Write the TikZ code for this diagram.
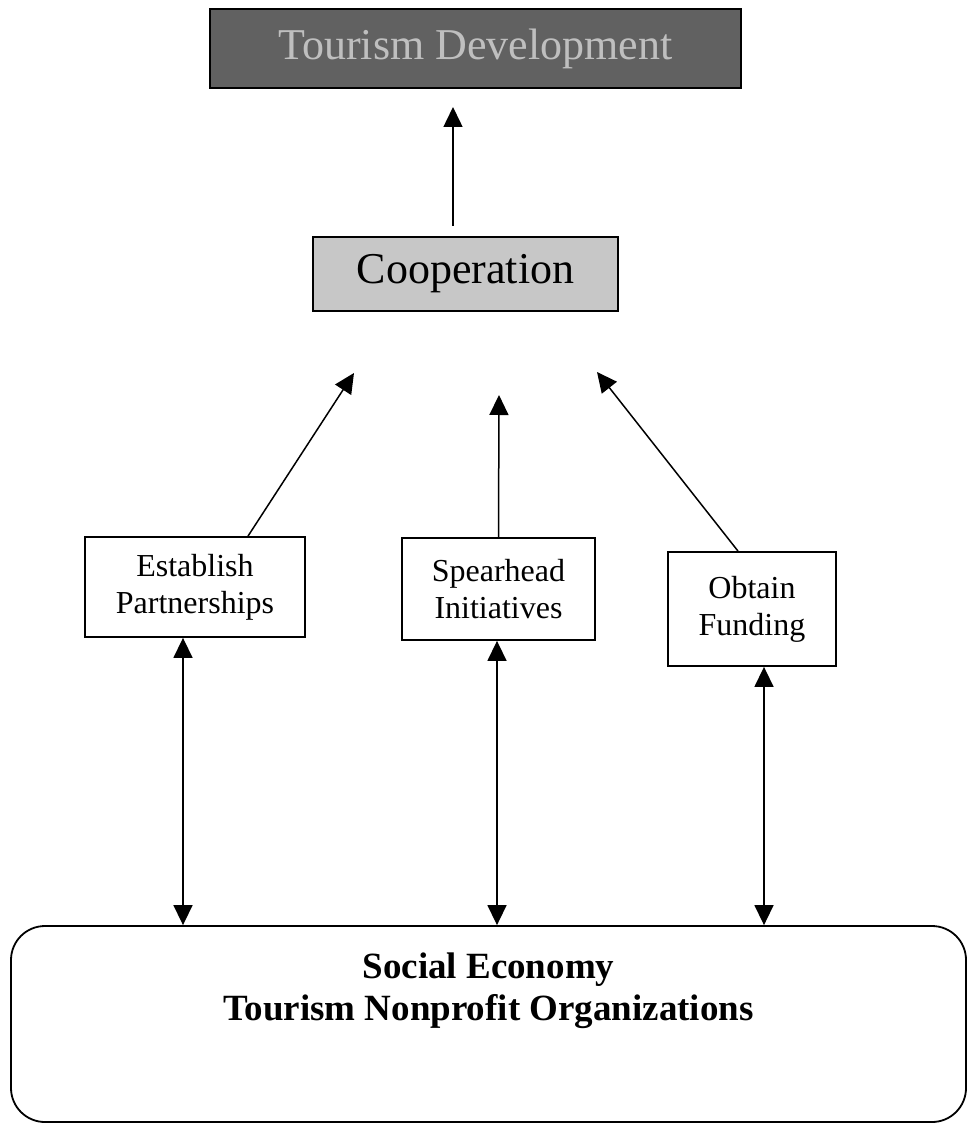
\documentclass[tikz,border=0pt]{standalone}
\usepackage{fontspec}
\setmainfont{Liberation Serif}
\usetikzlibrary{arrows.meta,positioning}
\begin{document}
\begin{tikzpicture}[
x=1pt, y=-1pt,
>={Triangle[length=20pt,width=19pt]},
mybox/.style={
    draw,
    rectangle,
    line width=1.8pt,
    inner sep=0pt,
    align=center},
smallbox/.style={
    mybox,
    font=\fontsize{32}{37}\selectfont},
bigbox/.style={
    mybox,
    font=\fontsize{44}{50}\selectfont},
orgbox/.style={
    draw,
    rectangle,
    rounded corners=34pt,
    line width=1.8pt},
link/.style={line width=1.5pt, ->},
twoway/.style={line width=1.5pt, <->}
]
\useasboundingbox (0,0) rectangle (968,1123);

\node (goal) at (475.5, 48.5) [bigbox, minimum width=531pt, minimum height=79pt, fill=black!62, text=black!25, line width=2.5pt] {Tourism Development};
\node (coop) at (465.5, 274) [bigbox, minimum width=305pt, minimum height=74pt, fill=black!22] {Cooperation};

\node (partner) at (195, 587) [smallbox, minimum width=220pt, minimum height=100pt] {Establish\\Partnerships};
\node (spear) at (498.5, 589) [smallbox, minimum width=193pt, minimum height=102pt] {Spearhead\\Initiatives};
\node (fund) at (752, 609) [smallbox, minimum width=168pt, minimum height=114pt] {Obtain\\Funding};

\node (orgs) at (488.5, 1024) [orgbox, minimum width=955pt, minimum height=196pt] {};
\node (orgtext) [below=28pt of orgs.north, inner sep=0pt, align=center, font=\fontsize{37}{42}\selectfont\bfseries] {Social Economy\\Tourism Nonprofit Organizations};

% loose arrow ends
\coordinate (coopout) at (453, 226);
\coordinate (goalin) at (453, 107);
\coordinate (toleft) at (354, 373);
\coordinate (tomid) at (499, 395);
\coordinate (toright) at (597, 372);

\draw[link] (coopout) -- (goalin);
\draw[link] ([xshift=53pt]partner.north) -- (toleft);
\draw[link] (spear.north) -- (tomid);
\draw[link] ([xshift=-14pt]fund.north) -- (toright);

\coordinate (pa) at ([xshift=-12pt]partner.south);
\coordinate (sa) at ([xshift=-1.5pt]spear.south);
\coordinate (fa) at ([xshift=12pt]fund.south);
\draw[twoway] (pa) -- (pa |- orgs.north);
\draw[twoway] (sa) -- (sa |- orgs.north);
\draw[twoway] (fa) -- (fa |- orgs.north);

\end{tikzpicture}
\end{document}
